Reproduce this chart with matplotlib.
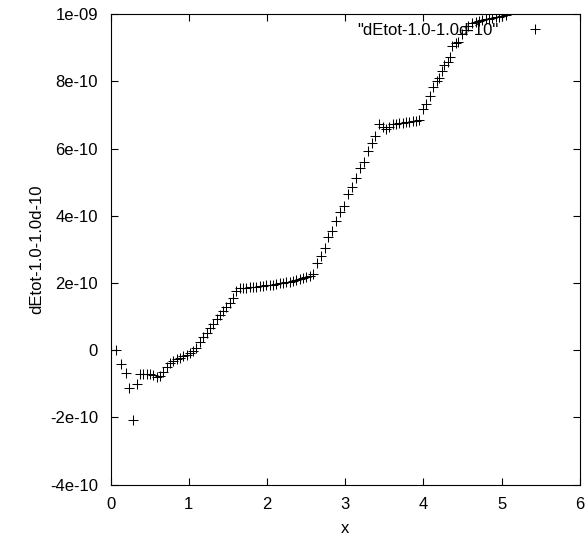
import matplotlib
matplotlib.use("Agg")
import matplotlib.pyplot as plt
from matplotlib.ticker import FixedLocator, FixedFormatter

plt.rcParams['font.family'] = ['Liberation Sans', 'DejaVu Sans']

# x positions and dEtot values (in units of 1e-10)
x = [0.01, 0.07, 0.134, 0.194, 0.236, 0.291, 0.342, 0.376, 0.418, 0.462,
     0.504, 0.546, 0.589, 0.631, 0.673, 0.717, 0.759, 0.801, 0.844, 0.887,
     0.929, 0.972, 1.014, 1.056, 1.099, 1.142, 1.184, 1.227, 1.269, 1.311,
     1.355, 1.397, 1.439, 1.482, 1.524, 1.566, 1.610, 1.652, 1.694, 1.737,
     1.779, 1.821, 1.865, 1.907, 1.949, 1.992, 2.034, 2.077, 2.120, 2.162,
     2.204, 2.247, 2.290, 2.332, 2.375, 2.417, 2.459, 2.503, 2.545, 2.587,
     2.638, 2.685, 2.736, 2.787, 2.834, 2.885, 2.936, 2.982, 3.033, 3.084,
     3.140, 3.191, 3.237, 3.288, 3.339, 3.386, 3.438, 3.480, 3.523, 3.565,
     3.607, 3.651, 3.693, 3.735, 3.778, 3.820, 3.862, 3.906, 3.948, 3.990,
     4.033, 4.084, 4.126, 4.173, 4.203, 4.232, 4.267, 4.309, 4.339, 4.360,
     4.416, 4.449, 4.500, 4.543, 4.577, 4.628, 4.671, 4.713, 4.755, 4.798,
     4.841, 4.883, 4.926, 4.968, 5.010, 5.054]
dEtot_e10 = [0.0, 0.0, -0.41, -0.67, -1.11, -2.07, -1.01, -0.71, -0.71, -0.72,
             -0.72, -0.74, -0.79, -0.76, -0.64, -0.49, -0.39, -0.31, -0.27, -0.23,
             -0.17, -0.13, -0.07, -0.02, 0.08, 0.26, 0.40, 0.51, 0.66, 0.78,
             0.92, 1.05, 1.17, 1.29, 1.41, 1.56, 1.76, 1.85, 1.86, 1.86,
             1.87, 1.88, 1.89, 1.90, 1.91, 1.93, 1.94, 1.95, 1.97, 1.99,
             2.00, 2.02, 2.04, 2.06, 2.10, 2.13, 2.16, 2.19, 2.22, 2.26,
             2.61, 2.82, 3.05, 3.38, 3.55, 3.86, 4.11, 4.29, 4.65, 4.85,
             5.12, 5.42, 5.60, 5.93, 6.16, 6.39, 6.73, 6.66, 6.60, 6.66,
             6.74, 6.74, 6.76, 6.76, 6.78, 6.79, 6.81, 6.82, 6.85, 7.17,
             7.33, 7.57, 7.83, 8.01, 8.10, 8.31, 8.49, 8.59, 8.72, 9.06,
             9.15, 9.18, 9.41, 9.53, 9.65, 9.75, 9.78, 9.81, 9.83, 9.85,
             9.87, 9.89, 9.91, 9.93, 9.95, 9.98]
dEtot = [v * 1e-10 for v in dEtot_e10]

yticks = [-4e-10, -2e-10, 0, 2e-10, 4e-10, 6e-10, 8e-10, 1e-09]
ytick_labels = ['-4e-10', '-2e-10', '0', '2e-10', '4e-10', '6e-10', '8e-10', '1e-09']

fig = plt.figure(figsize=(5.88, 5.43), dpi=100)
ax = fig.add_axes([0.188, 0.1074, 0.798, 0.8663])

ax.plot(x, dEtot, linestyle='none', marker='+', color='black',
        markersize=6.5, markeredgewidth=0.75, label='"dEtot-1.0-1.0d-10"')

ax.set_xlim(0, 6)
ax.set_ylim(-4e-10, 1e-09)
ax.set_xticks(range(7))
ax.yaxis.set_major_locator(FixedLocator(yticks))
ax.yaxis.set_major_formatter(FixedFormatter(ytick_labels))

ax.tick_params(direction='in', length=5, width=0.8, top=True, right=True,
               labelsize=12, pad=9)
for s in ax.spines.values():
    s.set_linewidth(0.8)

ax.set_xlabel('x', fontsize=12, labelpad=6)
ax.set_ylabel('dEtot-1.0-1.0d-10', fontsize=12, labelpad=4)

ax.legend(loc='upper right', frameon=False, markerfirst=False, fontsize=12,
          handlelength=4.4, handletextpad=0.0, borderaxespad=0.1)

fig.savefig('out.png', dpi=100)
